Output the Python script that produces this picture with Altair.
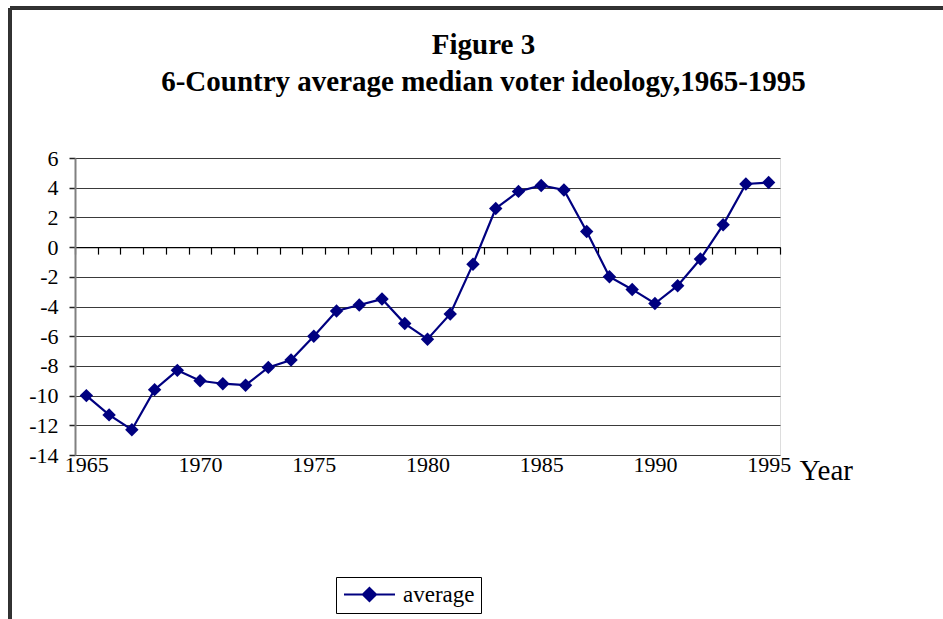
import altair as alt
import pandas as pd

years = [1965, 1966, 1967, 1968, 1969, 1970, 1971, 1972, 1973, 1974, 1975,
         1976, 1977, 1978, 1979, 1980, 1981, 1982, 1983, 1984, 1985,
         1986, 1987, 1988, 1989, 1990, 1991, 1992, 1993, 1994, 1995]
values = [-10.0, -11.3, -12.3, -9.6, -8.3, -9.0, -9.2, -9.3, -8.1, -7.6, -6.0,
          -4.3, -3.9, -3.5, -5.15, -6.2, -4.5, -1.15, 2.6, 3.75, 4.15,
          3.85, 1.05, -2.0, -2.85, -3.8, -2.6, -0.8, 1.5, 4.25, 4.35]
series_name = "average"
x_label_years = [1965, 1970, 1975, 1980, 1985, 1990, 1995]
y_ticks = [-14, -12, -10, -8, -6, -4, -2, 0, 2, 4, 6]
title_lines = ["Figure 3", "6-Country average median voter ideology,1965-1995"]
x_title = "Year"

df = pd.DataFrame({"year": years, "value": values, "series": [series_name] * len(years)})

NAVY = "#000080"
SERIF = "Liberation Serif"
W, H = 705, 297
ymin, ymax = -14, 6
xmin, xmax = years[0] - 0.5, years[-1] + 0.5

xs = alt.Scale(domain=[xmin, xmax], nice=False, zero=False)
ys = alt.Scale(domain=[ymin, ymax], nice=False, zero=False)

bottom_axis = alt.Axis(
    values=x_label_years, format="d", orient="bottom",
    ticks=False, domain=False, grid=False, labelOverlap=False,
    labelFont=SERIF, labelFontSize=22, labelColor="black", labelPadding=-1,
    title=x_title, titleFont=SERIF, titleFontSize=29, titleFontWeight="normal",
    titleColor="black", titleX=724, titleY=24, titleAlign="left",
    titleBaseline="alphabetic", titleAnchor="start",
)
y_axis = alt.Axis(
    values=y_ticks, orient="left", grid=True, gridColor="#3a3a3a", gridWidth=1,
    domain=True, domainColor="#808080", domainWidth=2,
    ticks=True, tickColor="#222222", tickSize=6, tickWidth=1.5,
    labelFont=SERIF, labelFontSize=22, labelColor="black", labelPadding=11,
    labelOverlap=False, labelBound=False, labelFlush=False,
    labelExpr="toString(datum.value)",
    title=None,
)
zero_offset = -H * (0 - ymin) / (ymax - ymin)
zero_axis = alt.Axis(
    values=[xmin + k for k in range(len(years) + 1)], orient="bottom",
    offset=zero_offset, labels=False, grid=False,
    domain=True, domainColor="black", domainWidth=1.2,
    ticks=True, tickColor="black", tickSize=7, tickWidth=1.2,
    title=None,
)

base = alt.Chart(df)
zero = base.mark_point(opacity=0).encode(
    x=alt.X("year:Q", scale=xs, axis=zero_axis),
    y=alt.Y("value:Q", scale=ys, axis=y_axis),
)
line = base.mark_line(color=NAVY, strokeWidth=2.2).encode(
    x=alt.X("year:Q", scale=xs, axis=bottom_axis),
    y=alt.Y("value:Q", scale=ys, axis=None),
)
pts = base.mark_point(shape="diamond", filled=True, size=180, opacity=1).encode(
    x=alt.X("year:Q", scale=xs, axis=None),
    y=alt.Y("value:Q", scale=ys, axis=None),
    color=alt.Color(
        "series:N",
        scale=alt.Scale(range=[NAVY]),
        legend=alt.Legend(
            title=None, orient="none", legendX=261, legendY=419,
            strokeColor="black", padding=6,
            symbolType="M-1,0H4.37M1.68,-0.7L2.38,0L1.68,0.7L0.98,0Z",
            symbolSize=361, symbolStrokeWidth=2, symbolStrokeColor=NAVY,
            symbolFillColor=NAVY,
            labelFont=SERIF, labelFontSize=23, labelColor="black", labelOffset=38,
        ),
    ),
)

frame_top = alt.Chart(df).mark_rule(color="#333333", strokeWidth=2.5).encode(
    x=alt.value(-65), x2=alt.value(870), y=alt.value(-150)
)
frame_left = alt.Chart(df).mark_rule(color="#333333", strokeWidth=2.5).encode(
    x=alt.value(-65), y=alt.value(-150), y2=alt.value(470)
)

chart = alt.layer(zero, line, pts, frame_top, frame_left).resolve_axis(
    x="independent", y="independent"
).properties(
    width=W, height=H,
    autosize=alt.AutoSizeParams(type="none"),
    padding={"left": 75, "top": 158, "right": 943 - 75 - W, "bottom": 619 - 158 - H},
    title=alt.Title(
        text=title_lines, font=SERIF, fontSize=29, fontWeight="bold",
        color="black", anchor="middle", dx=56, offset=0, dy=90, lineHeight=37,
    ),
).configure_view(stroke="#808080", strokeWidth=2).configure(background="white")

chart.save("out.html", embed_options={"renderer": "svg", "actions": False})
